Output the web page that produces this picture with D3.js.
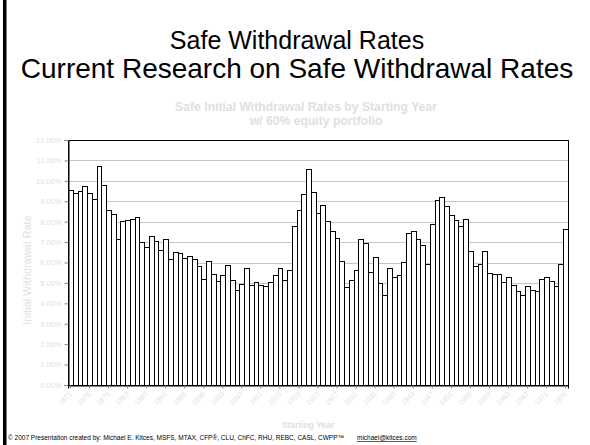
<!DOCTYPE html>
<html>
<head>
<meta charset="utf-8">
<script src="https://cdn.jsdelivr.net/npm/d3@7"></script>
<style>
  html, body { margin: 0; padding: 0; background: #fff; }
  svg { display: block; font-family: Arial, "Liberation Sans", sans-serif; }
</style>
</head>
<body>
<svg id="chart" width="590" height="445"></svg>
<script>
// ---- data ----
const startYear = 1871;
const years = d3.range(1871, 1976);
const rates = [
  9.54, 9.40, 9.49, 9.74, 9.40, 9.13, 10.75, 9.80, 8.55, 8.36,
  7.14, 8.04, 8.10, 8.12, 8.22, 7.02, 6.78, 7.32, 7.06, 6.63,
  7.14, 6.15, 6.53, 6.45, 6.24, 6.30, 6.16, 5.81, 5.18, 6.08,
  5.43, 5.07, 5.37, 5.86, 5.15, 4.67, 4.94, 5.75, 4.90, 5.05,
  4.91, 4.84, 5.05, 5.37, 5.73, 5.12, 5.64, 7.81, 8.57, 9.35,
  10.56, 9.43, 8.42, 8.80, 8.01, 7.52, 7.20, 6.05, 4.78, 5.12,
  5.64, 7.13, 6.97, 5.55, 6.27, 4.98, 4.41, 5.71, 5.28, 5.37,
  6.01, 7.44, 7.53, 7.13, 6.85, 5.92, 7.88, 9.05, 9.23, 8.75,
  8.31, 8.06, 7.80, 8.12, 6.58, 5.82, 5.92, 6.54, 5.51, 5.45,
  5.44, 5.03, 5.31, 4.89, 4.59, 4.43, 4.83, 4.63, 4.59, 5.18,
  5.27, 5.10, 4.87, 5.94, 7.62
];
const yTicks = d3.range(0, 13);
const xTickYears = years.filter(y => (y - startYear) % 4 === 0);

const slideTitle = "Safe Withdrawal Rates";
const slideSubtitle = "Current Research on Safe Withdrawal Rates";
const chartTitle1 = "Safe Initial Withdrawal Rates by Starting Year";
const chartTitle2 = "w/ 60% equity portfolio";
const yTitle = "Initial Withdrawal Rate";
const xTitle = "Starting Year";
const footer = "© 2007 Presentation created by: Michael E. Kitces, MSFS, MTAX, CFP®, CLU, ChFC, RHU, REBC, CASL, CWPP™";
const email = "michael@kitces.com";

// ---- layout ----
const svg = d3.select("#chart");
const L = 68, R = 568, T = 140, B = 385;
const faint = "#e0e0e0";

const x = d3.scaleBand().domain(years).range([L, R]).padding(0);
const y = d3.scaleLinear().domain([0, 12]).range([B, T]);

// slide left bar
svg.append("rect").attr("x", 3).attr("y", 0).attr("width", 3.5).attr("height", 445).attr("fill", "#000");

// slide titles
svg.append("text").attr("x", 297).attr("y", 49).attr("text-anchor", "middle")
  .attr("font-size", 25).attr("fill", "#000").text(slideTitle);
svg.append("text").attr("x", 297).attr("y", 78).attr("text-anchor", "middle")
  .attr("font-size", 28).attr("fill", "#000").text(slideSubtitle);

// chart titles
svg.append("text").attr("x", 306).attr("y", 111).attr("text-anchor", "middle")
  .attr("font-size", 12.2).attr("font-weight", "bold").attr("fill", faint).text(chartTitle1);
svg.append("text").attr("x", 316).attr("y", 124.5).attr("text-anchor", "middle")
  .attr("font-size", 12.2).attr("font-weight", "bold").attr("fill", faint).text(chartTitle2);

// gridlines
svg.append("g").selectAll("line").data(yTicks.filter(t => t > 0 && t < 12)).join("line")
  .attr("x1", L).attr("x2", R)
  .attr("y1", d => Math.round(y(d)) + 0.5).attr("y2", d => Math.round(y(d)) + 0.5)
  .attr("stroke", "#c6c6c6").attr("stroke-width", 1);

// bars
svg.append("g").selectAll("rect").data(years).join("rect")
  .attr("x", (d) => Math.round(x(d)) + 0.5)
  .attr("y", (d, i) => Math.round(y(rates[i])) + 0.5)
  .attr("width", d => Math.round(x(d) + x.bandwidth()) - Math.round(x(d)))
  .attr("height", (d, i) => Math.round(B) - Math.round(y(rates[i])))
  .attr("fill", "#fff").attr("stroke", "#000").attr("stroke-width", 1);

// frame
svg.append("rect").attr("x", L + 0.5).attr("y", T + 0.5).attr("width", R - L).attr("height", B - T)
  .attr("fill", "none").attr("stroke", "#000").attr("stroke-width", 1);

// y axis
const yAxis = d3.axisLeft(y).tickValues(yTicks).tickSize(4).tickPadding(3)
  .tickFormat(d => d3.format(".2f")(d) + "%");
const gy = svg.append("g").attr("transform", `translate(${L + 0.5},0)`).call(yAxis);
gy.select(".domain").attr("stroke", "#000");
gy.selectAll(".tick line").attr("stroke", "#888");
gy.selectAll(".tick text").attr("fill", faint).attr("font-size", 7.5)
  .attr("font-family", "Arial, 'Liberation Sans', sans-serif");

// x axis
const xAxis = d3.axisBottom(x).tickValues(xTickYears).tickSize(3).tickFormat(d => d);
const gx = svg.append("g").attr("transform", `translate(0,${B + 0.5})`).call(xAxis);
gx.select(".domain").attr("stroke", "#000");
gx.selectAll(".tick line").attr("stroke", "#888");
gx.selectAll(".tick text")
  .attr("fill", faint).attr("font-size", 7)
  .attr("font-family", "Arial, 'Liberation Sans', sans-serif")
  .attr("text-anchor", "end").attr("dy", null).attr("y", 0)
  .attr("transform", "translate(2,9) rotate(-45)");

// axis titles
svg.append("text").attr("transform", "translate(31,270) rotate(-90)")
  .attr("text-anchor", "middle").attr("font-size", 11).attr("fill", faint).text(yTitle);
svg.append("text").attr("x", 308).attr("y", 428).attr("text-anchor", "middle")
  .attr("font-size", 8.5).attr("font-weight", "bold").attr("fill", faint).text(xTitle);

// footer
svg.append("text").attr("x", 8).attr("y", 440).attr("font-size", 6.5).attr("fill", "#000").text(footer);
svg.append("text").attr("x", 357).attr("y", 440).attr("font-size", 6.5).attr("fill", "#000")
  .attr("text-decoration", "underline").text(email);
</script>
</body>
</html>
